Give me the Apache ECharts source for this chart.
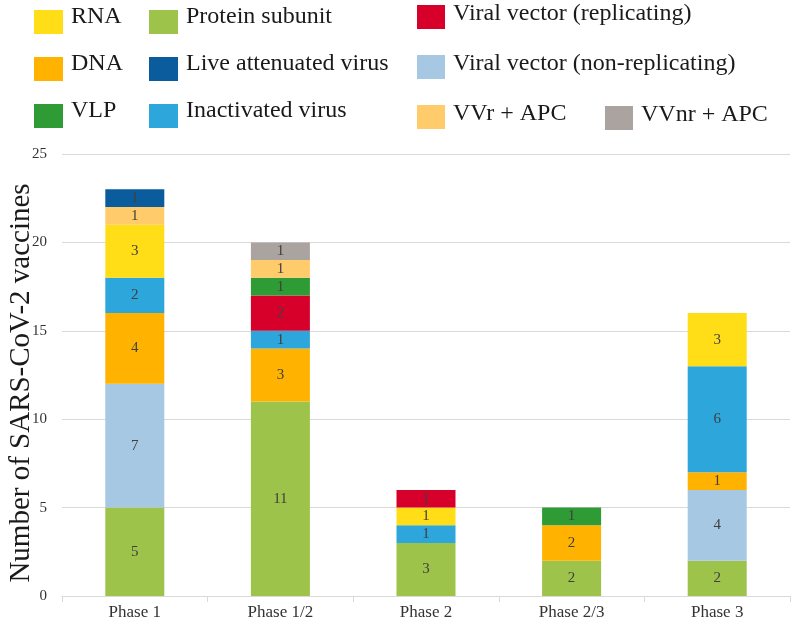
<!DOCTYPE html>
<html><head><meta charset="utf-8">
<script src="https://cdn.jsdelivr.net/npm/echarts@6/dist/echarts.min.js"></script>
<style>html,body{margin:0;padding:0;background:#fff}#c{width:800px;height:628px}</style>
</head><body><div id="c"></div>
<script>
const categories = ['Phase 1','Phase 1/2','Phase 2','Phase 2/3','Phase 3'];
const seriesNames = ['Protein subunit','Viral vector (non-replicating)','DNA','Inactivated virus','RNA','Viral vector (replicating)','VLP','VVr + APC','VVnr + APC','Live attenuated virus'];
const proteinSubunit = [5, 11, 3, 2, 2];
const viralVectorNonRep = [7, null, null, null, 4];
const dna = [4, 3, null, 2, 1];
const inactivated = [2, 1, 1, null, 6];
const rna = [3, null, 1, null, 3];
const viralVectorRep = [null, 2, 1, null, null];
const vlp = [null, 1, null, 1, null];
const vvrApc = [1, 1, null, null, null];
const vvnrApc = [null, 1, null, null, null];
const liveAttenuated = [1, null, null, null, null];
const seriesValues = [proteinSubunit, viralVectorNonRep, dna, inactivated, rna, viralVectorRep, vlp, vvrApc, vvnrApc, liveAttenuated];
const colors = ['#9DC34A','#A6C8E3','#FFB300','#2CA6DB','#FFDE17','#D7002A','#2E9B35','#FFCB6B','#ABA3A0','#0B5C9C'];
const yTicks = {min: 0, max: 25, interval: 5};

const font = '"Liberation Serif", "Times New Roman", serif';
const chart = echarts.init(document.getElementById('c'));
const series = seriesNames.map((n, i) => ({
  name: n, type: 'bar', stack: 'total', barWidth: 59,
  data: seriesValues[i],
  itemStyle: {color: colors[i]},
  label: {show: true, position: 'inside', color: '#404040', fontFamily: font, fontSize: 15,
    formatter: p => (p.value == null ? '' : p.value)}
}));
// legend swatches: rect in the lower part of the icon box so the text sits a bit higher than the swatch
const swatchA = 'path://M0,0L0.001,0L0.001,0.001Z M0,10L29,10L29,34L0,34Z';
const swatchB = 'path://M0,0L0.001,0L0.001,0.001Z M0,7L28,7L28,31L0,31Z';
const legBase = {orient: 'vertical', padding: 0, itemWidth: 29, itemHeight: 34, itemGap: 13, icon: swatchA,
  textStyle: {fontFamily: font, fontSize: 24, color: '#1a1a1a', padding: [0,0,0,3]}, selectedMode: false};
chart.setOption({
  animation: false,
  color: colors,
  legend: [
    Object.assign({}, legBase, {left: 34, top: 0, data: ['RNA','DNA','VLP']}),
    Object.assign({}, legBase, {left: 149, top: 0, data: ['Protein subunit','Live attenuated virus','Inactivated virus']}),
    Object.assign({}, legBase, {left: 417, top: -2, itemWidth: 28, itemHeight: 31, itemGap: 19, icon: swatchB, data: ['Viral vector (replicating)','Viral vector (non-replicating)','VVr + APC']}),
    Object.assign({}, legBase, {left: 605, top: 99, itemWidth: 28, itemHeight: 31, icon: swatchB, data: ['VVnr + APC']})
  ],
  grid: {left: 62, right: 10, top: 154, bottom: 32, containLabel: false, outerBoundsMode: 'none'},
  xAxis: {type: 'category', data: categories,
    axisLine: {lineStyle: {color: '#d9d9d9'}},
    axisTick: {show: true, length: 6, lineStyle: {color: '#d9d9d9'}},
    axisLabel: {fontFamily: font, fontSize: 17, color: '#333', margin: 8}},
  yAxis: {type: 'value', min: yTicks.min, max: yTicks.max, interval: yTicks.interval,
    name: 'Number of SARS-CoV-2 vaccines', nameLocation: 'middle', nameGap: 26, nameMoveOverlap: false,
    nameTextStyle: {fontFamily: font, fontSize: 29, color: '#1a1a1a', padding: [0,16,0,0]},
    axisLine: {show: false}, axisTick: {show: false},
    axisLabel: {fontFamily: font, fontSize: 15, color: '#333', margin: 15},
    splitLine: {lineStyle: {color: '#d9d9d9'}}},
  series: series
});
</script></body></html>
